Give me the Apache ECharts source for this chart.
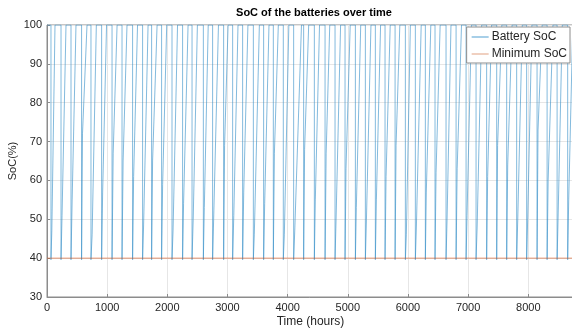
<!DOCTYPE html>
<html>
<head>
<meta charset="utf-8">
<script src="https://cdn.jsdelivr.net/npm/echarts@6/dist/echarts.min.js"></script>
<style>
  html, body { margin: 0; padding: 0; background: #fff; }
  #chart { width: 572px; height: 330px; }
</style>
</head>
<body>
<div id="chart"></div>
<script>
// hours where SoC falls from 100 to the floor
const dropHours = [66, 233, 399, 575, 731, 908, 1081, 1247, 1423, 1589, 1739, 1905, 2078,
  2254, 2411, 2599, 2753, 2936, 3086, 3252, 3430, 3601, 3762, 3928, 4100, 4266,
  4444, 4622, 4788, 4954, 5126, 5292, 5458, 5619, 5786, 5957, 6123, 6289, 6450,
  6633, 6800, 6966, 7132, 7308, 7475, 7641, 7807, 7973, 8146, 8313, 8479, 8655]
// hours where charging starts again
const riseHours = [80, 250, 418, 590, 750, 925, 1100, 1265, 1440, 1605, 1755, 1922, 2095,
  2270, 2430, 2615, 2770, 2952, 3105, 3270, 3446, 3618, 3780, 3945, 4118, 4282,
  4460, 4640, 4805, 4970, 5142, 5310, 5475, 5636, 5802, 5973, 6140, 6305, 6467,
  6650, 6818, 6982, 7150, 7325, 7490, 7658, 7825, 7990, 8162, 8330, 8495, 8672]
// SoC reached by the first fast step of charging
const jumpSoC = [47, 51, 55, 72, 46, 57, 67, 65, 61, 48, 65, 59, 47,
  54, 50, 53, 50, 69, 51, 57, 46, 54, 67, 46, 47, 68,
  55, 67, 50, 63, 53, 50, 55, 61, 69, 46, 48, 57, 62,
  50, 63, 51, 48, 61, 69, 64, 50, 50, 73, 60, 50, 55]
// hours where SoC is back at 100
const fullHours = [133, 316, 482, 665, 820, 990, 1165, 1330, 1505, 1680, 1830, 1990, 2170,
  2345, 2500, 2680, 2850, 3010, 3175, 3340, 3530, 3690, 3845, 4020, 4230, 4350,
  4530, 4700, 4880, 5040, 5215, 5385, 5545, 5705, 5865, 6040, 6220, 6380, 6535,
  6715, 6890, 7055, 7225, 7390, 7560, 7730, 7900, 8060, 8230, 8410, 8565, 8740]
const floorSoC = 39.6
const minSoC = 40
const endHour = 8760

const socData = [[0, 100]]
dropHours.forEach((d, i) => {
  socData.push([d, 100], [d, floorSoC], [riseHours[i], floorSoC],
    [riseHours[i], jumpSoC[i]], [fullHours[i], 100])
})
socData.push([endHour, 100])
const minData = [[0, minSoC], [endHour, minSoC]]

const font = "'Liberation Sans', Arial, sans-serif"
const mChart = echarts.init(document.getElementById('chart'))
const option = {
  animation: false,
  title: {
    text: 'SoC of the batteries over time',
    left: 309,
    textAlign: 'center',
    top: 2,
    textStyle: { fontFamily: font, fontSize: 11, fontWeight: 'bold', color: '#000' }
  },
  legend: {
    right: 2,
    top: 27,
    orient: 'vertical',
    icon: 'rect',
    itemWidth: 17,
    itemHeight: 1,
    itemGap: 5,
    padding: [4, 3, 3, 5],
    backgroundColor: '#fff',
    borderColor: '#8c8c8c',
    borderWidth: 1,
    borderRadius: 0,
    textStyle: { fontFamily: font, fontSize: 12, color: '#262626', padding: [0, 0, 0, -2] },
    data: ['Battery SoC', 'Minimum SoC']
  },
  grid: {
    left: 47, right: -2, top: 25, bottom: 33,
    containLabel: false,
    outerBoundsMode: 'none',
    show: true, borderColor: '#8c8c8c', borderWidth: 1
  },
  xAxis: {
    type: 'value',
    min: 0, max: endHour, interval: 1000,
    name: 'Time (hours)',
    nameLocation: 'middle',
    nameGap: 19,
    nameMoveOverlap: false,
    nameTextStyle: { fontFamily: font, fontSize: 12, color: '#262626' },
    axisLine: { show: true, lineStyle: { color: '#8c8c8c' } },
    axisTick: { inside: true, length: 3, lineStyle: { color: '#8c8c8c' } },
    axisLabel: { fontFamily: font, fontSize: 11, color: '#262626', margin: 5, showMaxLabel: false,
      formatter: v => String(v) },
    splitLine: { lineStyle: { color: '#e6e6e6' } }
  },
  yAxis: {
    type: 'value',
    min: 30, max: 100, interval: 10,
    name: 'SoC(%)',
    nameLocation: 'middle',
    nameGap: 29,
    nameMoveOverlap: false,
    nameTextStyle: { fontFamily: font, fontSize: 11, color: '#262626' },
    axisLine: { show: true, lineStyle: { color: '#8c8c8c' } },
    axisTick: { show: true, inside: true, length: 3, lineStyle: { color: '#8c8c8c' } },
    axisLabel: { fontFamily: font, fontSize: 11, color: '#262626', margin: 5 },
    splitLine: { lineStyle: { color: '#e6e6e6' } }
  },
  series: [{
    name: 'Battery SoC',
    type: 'line',
    showSymbol: false,
    color: '#4f9fd1',
    lineStyle: { width: 0.8, color: '#2f8bc6', opacity: 0.75 },
    data: socData
  }, {
    name: 'Minimum SoC',
    type: 'line',
    showSymbol: false,
    color: '#e0a080',
    lineStyle: { width: 1, color: '#D95319', opacity: 0.6 },
    data: minData
  }]
}
mChart.setOption(option)
window.addEventListener('resize', function() {
  mChart.resize()
})
</script>
</body>
</html>
